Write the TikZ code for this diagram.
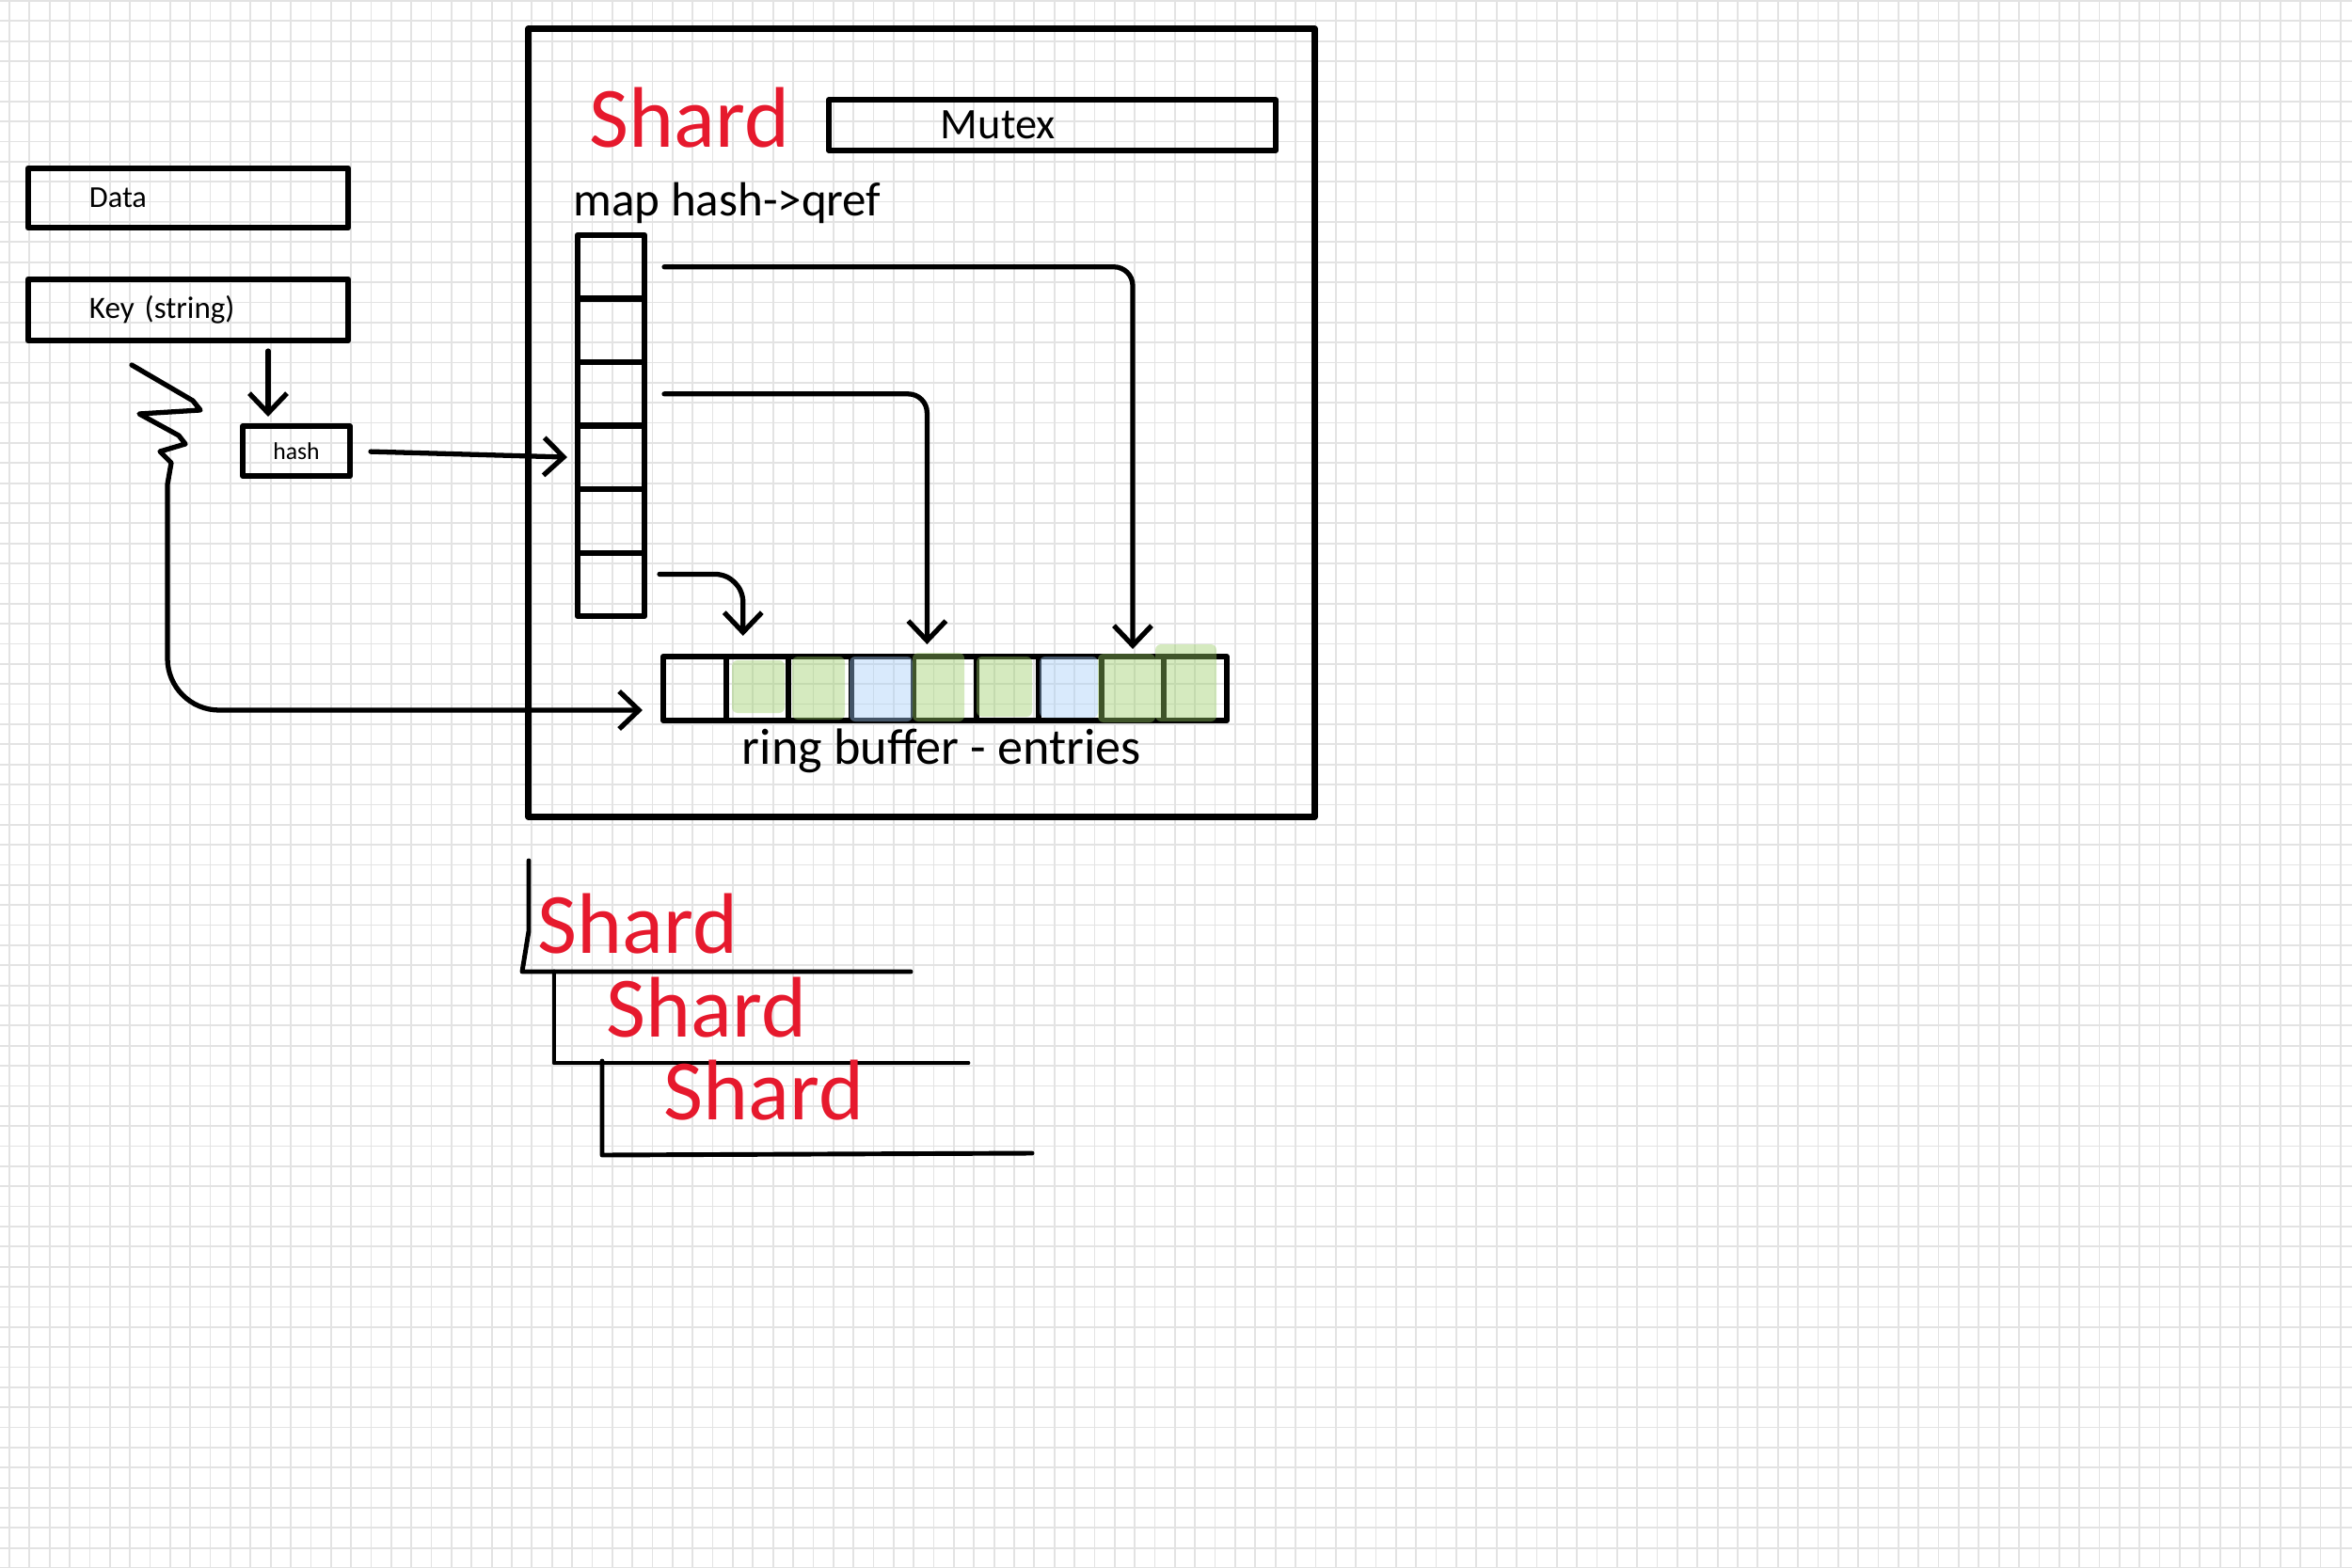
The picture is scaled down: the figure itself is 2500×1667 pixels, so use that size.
\documentclass[tikz,border=0pt]{standalone}
\usepackage{fontspec}
\setmainfont{Carlito}
\usepackage{tikz}
\usetikzlibrary{positioning,arrows.meta,calc}
\definecolor{inkred}{RGB}{230,25,45}
\definecolor{hlgreen}{RGB}{153,206,101}
\definecolor{hlblue}{RGB}{165,206,248}
\tikzset{>={Straight Barb[length=2.1mm,width=4mm]}}
\tikzset{
  gridline/.style={draw=black!11, line width=0.5pt},
  inkbox/.style={draw, line width=1.9pt, outer sep=0pt},
  labelbox/.style={inkbox, inner xsep=6.5mm, text width=21mm, align=left},
  mapcell/.style={inkbox, line width=1.8pt, inner sep=0pt, minimum width=7.1mm, minimum height=6.75mm},
  bufcell/.style={inkbox, line width=1.7pt, inner sep=0pt, minimum width=6.65mm, minimum height=6.8mm},
  redword/.style={text=inkred, font=\fontsize{26}{28}\selectfont, inner sep=0pt, anchor=base west},
  pen/.style={line width=1.5pt},
  marker/.style={fill opacity=0.41, rounded corners=0.6mm},
}

\begin{document}
\begin{tikzpicture}[x=0.01cm, y=-0.01cm, line cap=round, line join=round]
  \useasboundingbox (0,0) rectangle (2500,1667);
  \fill[white] (0,0) rectangle (2500,1667);
  % squared paper
  \foreach \gx in {0,...,116}
    \draw[gridline] ({10+21.36*\gx},0) -- ++(0,1667);
  \foreach \gy in {0,...,78}
    \draw[gridline] (0,{1+21.36*\gy}) -- ++(2500,0);

  % data, key and hash
  \node[labelbox, minimum height=6.3mm, font=\fontsize{9.2}{11}\selectfont] (data) at (200,210.5) {Data};
  \node[labelbox, minimum height=6.5mm, font=\fontsize{9.4}{11}\selectfont, below=5.5mm of data] (key) {Key (string)};
  \node[inkbox, line width=1.7pt, minimum width=11.4mm, minimum height=5.3mm, inner sep=0pt, font=\fontsize{7.3}{9}\selectfont] (hash) at (315,479.5) {hash};

  % the shard
  \node[inkbox, line width=2.1pt, minimum width=83.5mm, minimum height=83.7mm] (shard) at (979.5,449.5) {};
  \node[redword] (title) at (626,157) {Shard};
  \node[inkbox, line width=1.7pt, minimum height=5.2mm, inner xsep=11.9mm, text width=23.7mm, align=left, font=\fontsize{13.2}{15}\selectfont] (mutex) at (1118.5,133) {Mutex};
  \node[anchor=base west, inner sep=0pt, font=\fontsize{14.5}{17}\selectfont] (maplabel) at (609,230) {map hash->qref};

  \node[mapcell] (m1) at (649.5,283.75) {};
  \foreach \i [count=\j from 2] in {1,...,5}
    \node[mapcell, below=0pt of m\i] (m\j) {};

  \node[bufcell] (r1) at (738.25,732) {};
  \foreach \i [count=\j from 2] in {1,...,8}
    \node[bufcell, right=0pt of r\i] (r\j) {};

  % marker over the used entries
  \fill[hlgreen, marker] (778,702) rectangle (834,758);
  \fill[hlgreen, marker] (842,698) rectangle (898,765);
  \fill[hlblue, marker] (903,698) rectangle (970,767);
  \fill[hlgreen, marker] (970,694) rectangle (1025,767);
  \fill[hlgreen, marker] (1038,698) rectangle (1097,762);
  \fill[hlblue, marker] (1105,698) rectangle (1167,763);
  \fill[hlgreen, marker] (1167,695) rectangle (1228,768);
  \fill[hlgreen, marker] (1228,685) rectangle (1293,767);

  \node[anchor=base west, inner sep=0pt, font=\fontsize{15.4}{18}\selectfont] (ringlabel) at (788,812) {ring buffer - entries};

  % key -> hash -> map
  \coordinate (kh) at ([xshift=-3mm]hash.north);
  \draw[pen, ->, shorten <=1.1mm, shorten >=1mm] (key.south -| kh) -- (kh);
  \draw[pen, ->, shorten <=2.2mm, shorten >=1.1mm] (hash.east) -- (m4.west);

  % map -> ring buffer
  \draw[pen, ->, rounded corners=2mm, shorten <=2.1mm, shorten >=0.8mm] (m1.east) -| (r8.north);
  \draw[pen, ->, rounded corners=2mm, shorten <=2.1mm, shorten >=1.3mm] (m3.east) -| ([xshift=-1.9mm]r5.north);
  \draw[pen, ->, rounded corners=3mm, shorten <=1.6mm, shorten >=2.2mm] ([yshift=1.1mm]m6.east) -| ([xshift=-1.5mm]r2.north);

  % bolt under the key, back to the ring buffer
  \coordinate (bolt) at (140,388);
  \draw[pen, ->, shorten >=2.2mm] (bolt) -- (205,426) -- (213,436) -- (148,440) -- (190,463) -- (197,472)
    -- (170,480) -- (182,492) -- (178,515) [rounded corners=5.5mm] -- (178,755) -- ([yshift=-2.3mm]r1.west);

  % more shards
  \draw[pen, line width=1.4pt] (562,915) -- (562,990) -- (555,1033) -- (968,1033);
  \draw[pen, line width=1.4pt] (589,1033) -- (589,1130) -- (1029,1130);
  \draw[pen, line width=1.4pt] (640,1128) -- (640,1228) -- (1097,1226);
  \node[redword] (shard2) at (571,1013) {Shard};
  \node[redword] (shard3) at (644,1102) {Shard};
  \node[redword] (shard4) at (705,1190) {Shard};
\end{tikzpicture}
\end{document}
